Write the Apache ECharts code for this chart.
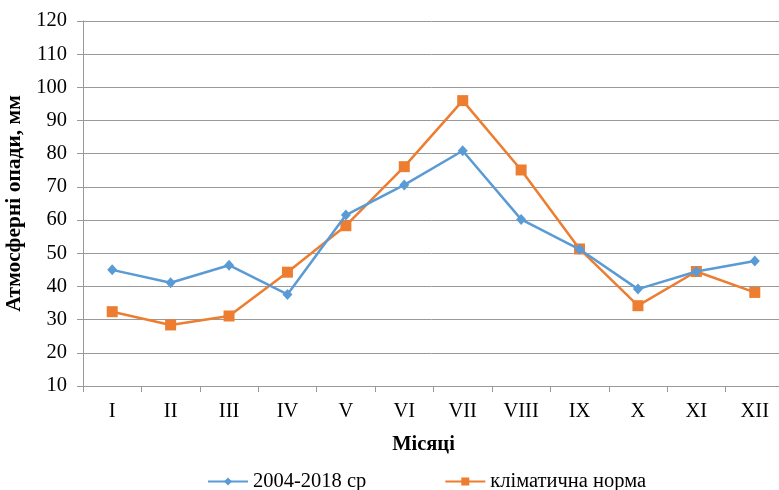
<!DOCTYPE html>
<html><head><meta charset="utf-8">
<script src="https://cdn.jsdelivr.net/npm/echarts@6/dist/echarts.min.js"></script>
<style>html,body{margin:0;padding:0;background:#fff}#c{width:779px;height:490px}</style>
</head><body><div id="c"></div>
<script>
const categories = ['I','II','III','IV','V','VI','VII','VIII','IX','X','XI','XII'];
const seriesAvg = [45.0, 41.1, 46.4, 37.6, 61.5, 70.6, 80.9, 60.2, 51.2, 39.2, 44.5, 47.7];
const seriesNorm = [32.4, 28.4, 31.1, 44.3, 58.3, 76.1, 96.0, 75.1, 51.3, 34.2, 44.5, 38.2];
const seriesNames = ['2004-2018 ср', 'кліматична норма'];
const yName = 'Атмосферні опади, мм';
const xName = 'Місяці';

const font = 'Liberation Serif, Times New Roman, serif';
const FS = 20.5;
const chart = echarts.init(document.getElementById('c'), null, {renderer:'canvas'});
chart.setOption({
  animation:false,
  backgroundColor:'#fff',
  grid:{left:83, top:21, width:701, bottom:104, containLabel:false, outerBoundsMode:'none'},
  legend:{
    top:471, left:207, padding:0,
    itemWidth:40, itemHeight:10, itemGap:78,
    textStyle:{fontFamily:font, fontSize:FS, color:'#000'},
    data:seriesNames
  },
  xAxis:{
    type:'category', data:categories, boundaryGap:true,
    name:xName, nameLocation:'middle', nameGap:48,
    nameTextStyle:{fontFamily:font, fontSize:FS, fontWeight:'bold', color:'#000', padding:[0,20,0,0]},
    axisLine:{lineStyle:{color:'#999', width:1}},
    axisTick:{show:true, length:6, lineStyle:{color:'#999'}},
    axisLabel:{fontFamily:font, fontSize:FS, color:'#000', margin:15}
  },
  yAxis:{
    type:'value', min:10, max:120, interval:10,
    name:yName, nameLocation:'middle', nameGap:51, nameRotate:90,
    nameTextStyle:{fontFamily:font, fontSize:21.5, fontWeight:'bold', color:'#000'},
    axisLine:{show:true, lineStyle:{color:'#999', width:1}},
    axisTick:{show:true, length:6, lineStyle:{color:'#999'}},
    axisLabel:{fontFamily:font, fontSize:FS, color:'#000', margin:16},
    splitLine:{lineStyle:{color:'#999', width:1}}
  },
  series:[
    {name:seriesNames[0], type:'line', data:seriesAvg, symbol:'diamond', symbolSize:[10,11],
     lineStyle:{color:'#5B9BD5', width:2.5}, itemStyle:{color:'#5B9BD5'}, z:3},
    {name:seriesNames[1], type:'line', data:seriesNorm, symbol:'rect', symbolSize:11,
     lineStyle:{color:'#ED7D31', width:2.5}, itemStyle:{color:'#ED7D31'}, z:2}
  ]
});
</script></body></html>
